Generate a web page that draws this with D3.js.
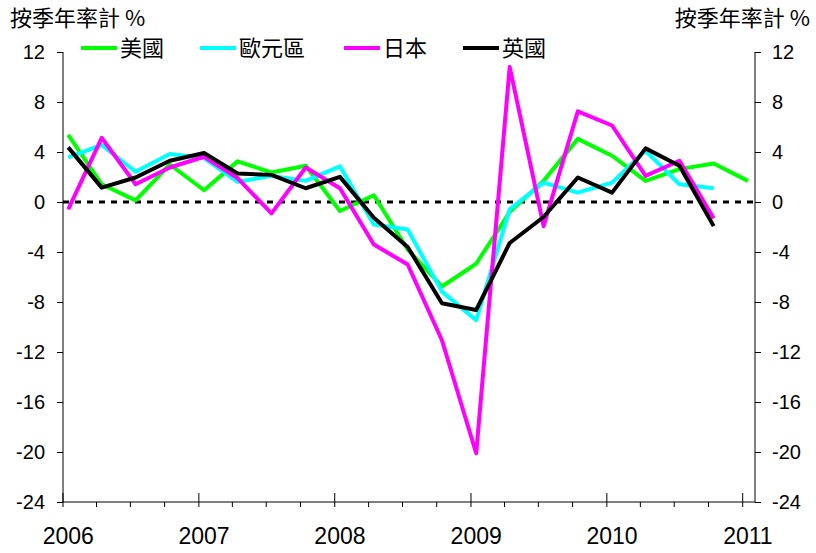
<!DOCTYPE html>
<html>
<head>
<meta charset="utf-8">
<script src="https://cdn.jsdelivr.net/npm/d3@7"></script>
<style>
  body { margin: 0; background: #fff; }
  text { font-family: "Liberation Sans", Arial, sans-serif; fill: #000; }
  .cjk { font-family: "Noto Sans CJK TC", "Noto Sans CJK SC", sans-serif; }
</style>
</head>
<body>
<div id="chart"></div>
<script>
// quarters, 2006Q1 .. 2011Q1
let quarters = ["2006Q1","2006Q2","2006Q3","2006Q4","2007Q1","2007Q2","2007Q3","2007Q4",
  "2008Q1","2008Q2","2008Q3","2008Q4","2009Q1","2009Q2","2009Q3","2009Q4",
  "2010Q1","2010Q2","2010Q3","2010Q4","2011Q1"];

let usa = [5.37, 1.42, 0.13, 3.0, 0.94, 3.25, 2.36, 2.9, -0.72, 0.54, -3.8, -6.76,
  -4.94, -0.8, 1.69, 5.05, 3.7, 1.69, 2.63, 3.08, 1.69];
let euro = [3.57, 4.56, 2.42, 3.84, 3.52, 1.61, 2.09, 1.69, 2.85, -1.8, -2.2, -7.17,
  -9.45, -0.59, 1.55, 0.75, 1.55, 4.1, 1.42, 1.1];
let japan = [-0.59, 5.13, 1.42, 2.76, 3.62, 1.91, -0.91, 2.76, 1.1, -3.4, -5.0, -11.06,
  -20.1, 10.81, -1.93, 7.25, 6.12, 2.09, 3.3, -1.31];
let uk = [4.37, 1.15, 1.96, 3.3, 3.92, 2.28, 2.17, 1.1, 2.01, -1.26, -3.6, -8.1,
  -8.64, -3.28, -1.2, 1.96, 0.75, 4.29, 2.9, -1.93];

let seriesNames = ["美國", "歐元區", "日本", "英國"];
let seriesColors = ["#00ff00", "#00ffff", "#ff00ff", "#000000"];
let years = [2006, 2007, 2008, 2009, 2010, 2011];
let yTicks = [-24, -20, -16, -12, -8, -4, 0, 4, 8, 12];
let axisTitle = "按季年率計 %";

let W = 816, H = 553;
let plot = {left: 63, right: 755, top: 52, bottom: 502};

function qDate(q) {
  let yr = +q.slice(0, 4), n = +q.slice(5) - 1;
  return new Date(yr, n * 3, 15);
}

let svg = d3.select("#chart").append("svg")
  .attr("width", W)
  .attr("height", H);

let x = d3.scaleTime()
  .domain([new Date(2006, 0, 1), new Date(2011, 1, 3)])
  .range([plot.left, plot.right]);

let y = d3.scaleLinear()
  .domain([-24, 12])
  .range([plot.bottom, plot.top]);

// zero line
svg.append("line")
  .attr("x1", plot.left).attr("x2", plot.right)
  .attr("y1", y(0)).attr("y2", y(0))
  .style("stroke", "#000")
  .style("stroke-width", 3)
  .style("stroke-dasharray", "6,6");

// left and right y axes (plain hyphen for negatives)
let yl = svg.append("g")
  .attr("transform", "translate(" + plot.left + ",0)")
  .call(d3.axisLeft(y).tickValues(yTicks).tickFormat(d => String(d)).tickSize(6).tickPadding(12));
let yr = svg.append("g")
  .attr("transform", "translate(" + plot.right + ",0)")
  .call(d3.axisRight(y).tickValues(yTicks).tickFormat(d => String(d)).tickSize(6).tickPadding(11));

[yl, yr].forEach(g => {
  g.select(".domain").attr("d", "M0," + plot.top + "V" + plot.bottom).style("stroke", "#000");
  g.selectAll(".tick line").style("stroke", "#000");
  g.selectAll(".tick text")
    .style("font-size", "20px")
    .style("font-family", "'Liberation Sans', Arial, sans-serif")
    .attr("fill", "#000");
});

// bottom axis: quarter ticks below, year ticks crossing
let qTicks = d3.timeMonth.every(3).range(new Date(2006, 0, 1), new Date(2011, 1, 3));
let xg = svg.append("g");
xg.append("line")
  .attr("x1", plot.left).attr("x2", plot.right)
  .attr("y1", plot.bottom).attr("y2", plot.bottom)
  .style("stroke", "#000");
xg.selectAll(".qt")
  .data(qTicks)
  .enter().append("line")
  .attr("x1", d => x(d)).attr("x2", d => x(d))
  .attr("y1", d => d.getMonth() === 0 ? plot.bottom - 9 : plot.bottom)
  .attr("y2", plot.bottom + 5)
  .style("stroke", "#000");
xg.selectAll(".yl")
  .data(years)
  .enter().append("text")
  .attr("x", d => x(new Date(d, 0, 15)))
  .attr("y", 544)
  .attr("text-anchor", "middle")
  .style("font-size", "23px")
  .text(d => d);

// lines
let allSeries = [usa, euro, japan, uk];
let line = d3.line()
  .x((d, i) => x(qDate(quarters[i])))
  .y(d => y(d));

svg.append("g")
  .selectAll("path")
  .data(allSeries)
  .enter().append("path")
  .attr("d", d => line(d))
  .style("fill", "none")
  .style("stroke", (d, i) => seriesColors[i])
  .style("stroke-width", 4)
  .style("stroke-linejoin", "round");

// titles
svg.append("text")
  .attr("class", "cjk")
  .attr("x", 10).attr("y", 26)
  .style("font-size", "22px")
  .text(axisTitle);
svg.append("text")
  .attr("class", "cjk")
  .attr("x", 810).attr("y", 26)
  .attr("text-anchor", "end")
  .style("font-size", "22px")
  .text(axisTitle);

// legend
let legX = [81, 200, 344, 463];
let leg = svg.append("g")
  .selectAll("g")
  .data(seriesNames)
  .enter().append("g")
  .attr("transform", (d, i) => "translate(" + legX[i] + ",48)");
leg.append("line")
  .attr("x1", 0).attr("x2", 36)
  .style("stroke", (d, i) => seriesColors[i])
  .style("stroke-width", 4);
leg.append("text")
  .attr("class", "cjk")
  .attr("x", 39).attr("y", 8)
  .style("font-size", "22px")
  .text(d => d);
</script>
</body>
</html>
